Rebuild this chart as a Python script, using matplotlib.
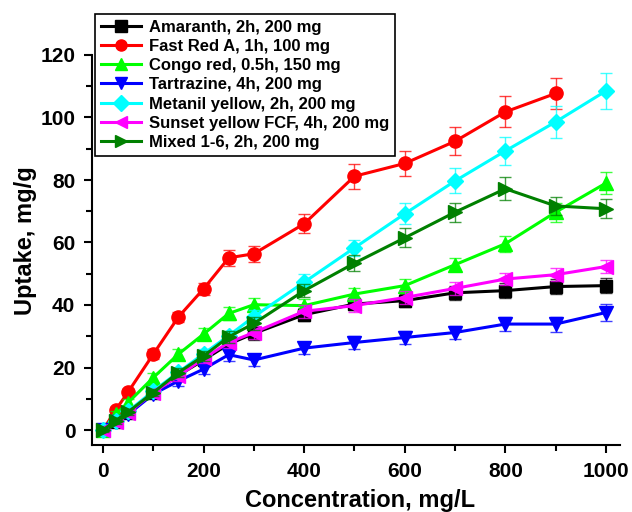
import numpy as np
import matplotlib as mpl
mpl.use('Agg')
import matplotlib.pyplot as plt
from matplotlib.ticker import MultipleLocator

# Concentration, mg/L
conc = [0, 25, 50, 100, 150, 200, 250, 300, 400, 500, 600, 700, 800, 900, 1000]

# Uptake, mg/g
amaranth = [0, 2.5, 5.5, 12, 17.5, 22.4, 27.5, 30.9, 36.9, 40.3, 41.4, 43.9, 44.6, 45.9, 46.2]
amaranth_err = [0.5, 1, 1, 1.2, 1.5, 1.5, 1.8, 2, 2, 2, 2, 2.2, 2.3, 2.3, 2.3]

fastred = [0, 6.4, 12.2, 24.3, 36.2, 45.2, 55.1, 56.4, 66.0, 81.2, 85.3, 92.4, 101.8, 107.7]
fastred_err = [0.5, 1, 1, 1.5, 1.5, 2, 2.5, 2.5, 3, 4, 4, 4.5, 5, 5]

congo = [0, 5, 8.8, 16.8, 24.3, 30.7, 37.3, 40.1, 39.8, 43.5, 46.2, 52.9, 59.6, 69.7, 79.0]
congo_err = [0.5, 1, 1, 1.5, 1.5, 2, 2, 2, 2, 2, 2, 2, 2.5, 3, 3.5]

tartrazine = [0, 2.5, 5, 11.5, 15.7, 19.5, 24.1, 22.4, 26.2, 28.0, 29.6, 31.2, 33.9, 33.9, 37.6]
tartrazine_err = [0.5, 1, 1, 1.2, 1.5, 1.5, 2, 2, 2, 2, 2, 2, 2.2, 2.4, 2.6]

metanil = [0, 3, 6, 12.5, 18.5, 24.4, 30.2, 36.3, 47.3, 58.3, 69.2, 79.7, 89.3, 98.6, 108.5]
metanil_err = [0.5, 1, 1, 1.2, 1.5, 1.5, 1.5, 2, 2.5, 2.5, 3.4, 4, 4.5, 5, 5.7]

sunset = [0, 2.5, 5.5, 12, 17.3, 22.9, 28.0, 31.2, 38.0, 39.8, 42.4, 45.3, 48.3, 49.7, 52.3]
sunset_err = [0.5, 1, 1, 1.2, 1.5, 1.5, 1.8, 2, 2, 2, 2, 2, 2, 2, 2]

mixed = [0, 3, 5.8, 12, 18.4, 23.7, 29.8, 34.1, 44.6, 53.4, 61.5, 69.7, 77.2, 71.7, 70.8]
mixed_err = [0.5, 1, 1, 1.2, 1.5, 1.5, 1.8, 2, 2, 2.5, 3, 3, 3.7, 3, 3]

labels = ['Amaranth, 2h, 200 mg', 'Fast Red A, 1h, 100 mg', 'Congo red, 0.5h, 150 mg',
          'Tartrazine, 4h, 200 mg', 'Metanil yellow, 2h, 200 mg',
          'Sunset yellow FCF, 4h, 200 mg', 'Mixed 1-6, 2h, 200 mg']

plt.rcParams['font.family'] = ['Liberation Sans', 'DejaVu Sans']
plt.rcParams['font.weight'] = 'bold'

series = [(amaranth, amaranth_err, 'black', 's', 8),
          (fastred, fastred_err, '#FF0000', 'o', 9.5),
          (congo, congo_err, '#00FF00', '^', 10),
          (tartrazine, tartrazine_err, '#0000FF', 'v', 10),
          (metanil, metanil_err, '#00FFFF', 'D', 8.5),
          (sunset, sunset_err, '#FF00FF', '<', 10),
          (mixed, mixed_err, '#008000', '>', 10)]

fg = plt.figure(figsize=(6.32, 5.12), dpi=100)
ax = fg.add_axes([92/632, 1-445/512, (620-92)/632, (445-55)/512])

handles = []
for i, ((y, e, c, m, ms), lab) in enumerate(zip(series, labels)):
  x = conc[:len(y)]
  ax.errorbar(x, y, yerr=e, fmt='none', ecolor=c, elinewidth=1.0, capsize=4,
              capthick=1.0, alpha=0.75, zorder=2 + 2*i)
  h, = ax.plot(x, y, color=c, marker=m, markersize=ms, lw=2.2, mec=c, mfc=c,
               label=lab, zorder=3 + 2*i)
  handles.append(h)

ax.set_xlim(-22, 1028)
ax.set_ylim(-4.8, 120)
ax.xaxis.set_major_locator(MultipleLocator(200))
ax.xaxis.set_minor_locator(MultipleLocator(100))
ax.yaxis.set_major_locator(MultipleLocator(20))
ax.yaxis.set_minor_locator(MultipleLocator(10))

for s in ['top', 'right']:
  ax.spines[s].set_visible(False)
for s in ['left', 'bottom']:
  ax.spines[s].set_linewidth(1.5)

ax.tick_params(which='major', direction='out', length=6, width=1.5, labelsize=15, pad=6)
ax.tick_params(which='minor', direction='out', length=4, width=1.5)
for t in ax.get_xticklabels() + ax.get_yticklabels():
  t.set_fontweight('bold')

ax.set_xlabel('Concentration, mg/L', fontsize=17, fontweight='bold')
ax.set_ylabel('Uptake, mg/g', fontsize=17, fontweight='bold')
ax.xaxis.set_label_coords(0.508, -0.113)
ax.yaxis.set_label_coords(-0.105, 0.523)

leg = fg.legend(handles=handles, loc='upper left', bbox_to_anchor=(95/632, 1-14/512),
                prop={'size': 12, 'weight': 'bold'}, frameon=True, fancybox=False,
                framealpha=1, edgecolor='black', labelspacing=0.25, handlelength=2.4,
                handletextpad=0.5, borderpad=0.35, borderaxespad=0)
leg.get_frame().set_linewidth(1.2)
for h in leg.legend_handles:
  h.set_markersize(8)

fg.savefig('out.png', dpi=100)
